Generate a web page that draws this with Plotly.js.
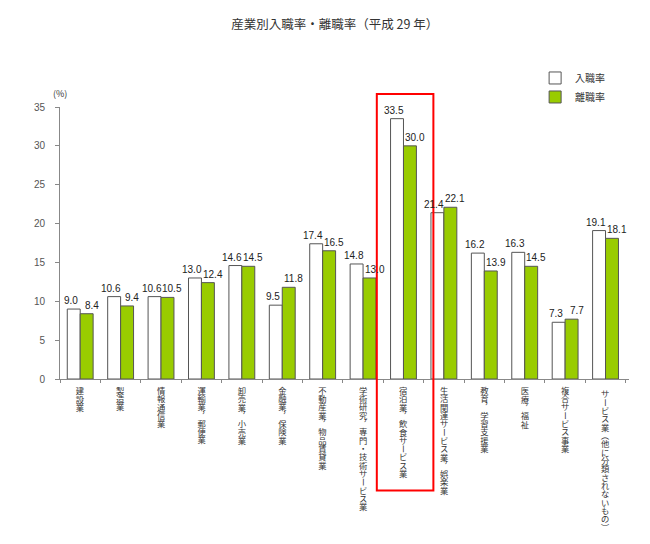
<!DOCTYPE html>
<html>
<head>
<meta charset="utf-8">
<script src="https://cdn.plot.ly/plotly-3.0.1.min.js"></script>
<style>
  html, body { margin: 0; padding: 0; background: #fff; }
  #chart { width: 650px; height: 544px; }
</style>
</head>
<body>
<div id="chart"></div>
<script>
// ~~~ data ~~~
const categories = [
  '建設業',
  '製造業',
  '情報通信業',
  '運輸業，郵便業',
  '卸売業，小売業',
  '金融業，保険業',
  '不動産業，物品賃貸業',
  '学術研究，専門・技術サービス業',
  '宿泊業，飲食サービス業',
  '生活関連サービス業，娯楽業',
  '教育，学習支援業',
  '医療，福祉',
  '複合サービス事業',
  'サービス業（他に分類されないもの）'
];
const entryRate = [9.0, 10.6, 10.6, 13.0, 14.6, 9.5, 17.4, 14.8, 33.5, 21.4, 16.2, 16.3, 7.3, 19.1];
const leaveRate = [8.4, 9.4, 10.5, 12.4, 14.5, 11.8, 16.5, 13.0, 30.0, 22.1, 13.9, 14.5, 7.7, 18.1];
const seriesNames = ['入職率', '離職率'];
const highlighted = '宿泊業，飲食サービス業';

const labelFont = 'Liberation Sans, Arial, sans-serif';
const jpFont = '"Noto Sans CJK JP", sans-serif';
const catFontSize = 8.3;
const bargap = 0.36;

const barTrace = (name, values, fill) => ({
  type: 'bar',
  name: name,
  x: categories,
  y: values,
  marker: {color: fill, line: {color: '#555', width: 1}},
  hoverinfo: 'skip',
});

// value labels above each bar (white bar left, green bar right)
const barOffset = (1 - bargap) / 4;
const valueLabels = (values, side, shift) => values.map((v, i) => ({
  x: i + side * barOffset, xref: 'x',
  y: v, yref: 'y',
  xanchor: 'center', yanchor: 'bottom',
  xshift: shift, yshift: 1,
  text: v.toFixed(1),
  showarrow: false,
  font: {family: labelFont, size: 10, color: '#222'},
}));

// category labels: text turned 90deg, glyphs turned back upright afterwards (tategaki)
const verticalLabel = (label, col) => ({
  x: col, xref: 'x',
  y: 0, yref: 'paper',
  xanchor: 'center', yanchor: 'top',
  yshift: -13,
  textangle: 90,
  text: label,
  showarrow: false,
  font: {family: jpFont, size: catFontSize, color: '#333'},
});

const annotations = [{
  text: '(%)', x: 0, xref: 'paper', xanchor: 'center',
  y: 1.05, yref: 'paper', yanchor: 'middle',
  showarrow: false,
  font: {family: jpFont, size: 9, color: '#333'},
}];
categories.forEach((c, i) => annotations.push(verticalLabel(c, i)));
annotations.push(...valueLabels(entryRate, -1, -3));
annotations.push(...valueLabels(leaveRate, 1, 5));

const hi = categories.indexOf(highlighted);

const layout = {
  width: 650,
  height: 544,
  paper_bgcolor: '#fff',
  plot_bgcolor: '#fff',
  margin: {l: 60, r: 21, t: 107, b: 165},
  title: {
    text: '産業別入職率・離職率（平成 29 年）',
    x: 0.515, xanchor: 'center',
    y: 0.955, yanchor: 'middle',
    font: {family: jpFont, size: 12.5, color: '#333'},
  },
  barmode: 'group',
  bargap: bargap,
  bargroupgap: 0,
  showlegend: true,
  legend: {
    x: 0.835, xanchor: 'left',
    y: 1.16, yanchor: 'top',
    bgcolor: 'rgba(0,0,0,0)',
    font: {family: jpFont, size: 10, color: '#333'},
    itemwidth: 30,
  },
  xaxis: {
    type: 'category',
    showticklabels: false,
    showline: true,
    linecolor: '#888',
    linewidth: 1,
    ticks: 'outside',
    tickson: 'boundaries',
    ticklen: 3,
    tickcolor: '#888',
    showgrid: false,
    zeroline: false,
    fixedrange: true,
  },
  yaxis: {
    range: [0, 35],
    dtick: 5,
    showline: true,
    linecolor: '#888',
    linewidth: 1,
    ticks: 'outside',
    ticklen: 4,
    tickcolor: '#888',
    ticklabelstandoff: 8,
    showgrid: false,
    zeroline: false,
    tickfont: {family: labelFont, size: 10, color: '#555'},
    fixedrange: true,
  },
  shapes: [{
    type: 'rect',
    xref: 'x', yref: 'paper',
    x0: hi - 0.66, x1: hi + 0.74,
    y0: -0.41, y1: 1.048,
    line: {color: '#ff0000', width: 2},
    fillcolor: 'rgba(0,0,0,0)',
  }],
  annotations: annotations,
};

const data = [
  barTrace(seriesNames[0], entryRate, '#ffffff'),
  barTrace(seriesNames[1], leaveRate, '#99cc00'),
];

// per glyph: rotation and shift (text frame) so the column reads like vertical writing.
// long vowel mark and brackets stay turned, the comma goes to the top right of its cell
const glyphPlacement = label => {
  const em = catFontSize;
  const rotate = [], dx = [], dy = [];
  let px = 0, py = 0;
  Array.from(label).forEach(ch => {
    let r = -90, ox = 0, oy = 0;
    if ('ー（）'.includes(ch)) { r = 0; ox = -0.88 * em; oy = -0.12 * em; }
    if (ch === '，') { ox = -0.7 * em; oy = -0.5 * em; }
    rotate.push(r);
    dx.push((ox - px).toFixed(2));
    dy.push((oy - py).toFixed(2));
    px = ox;
    py = oy;
  });
  return {rotate: rotate.join(' '), dx: dx.join(' '), dy: dy.join(' ')};
};

const uprightGlyphs = () => {
  categories.forEach((label, i) => {
    const txt = document.querySelector('#chart .annotation[data-index="' + (i + 1) + '"] text.annotation-text');
    if (!txt) return;
    const spans = txt.querySelectorAll('tspan');
    const target = spans.length ? spans[spans.length - 1] : txt;
    const p = glyphPlacement(label);
    target.setAttribute('rotate', p.rotate);
    target.setAttribute('dx', p.dx);
    target.setAttribute('dy', p.dy);
  });
};

Plotly.newPlot('chart', data, layout, {displayModeBar: false, staticPlot: true}).then(gd => {
  uprightGlyphs();
  gd.on('plotly_afterplot', uprightGlyphs);
});
</script>
</body>
</html>
